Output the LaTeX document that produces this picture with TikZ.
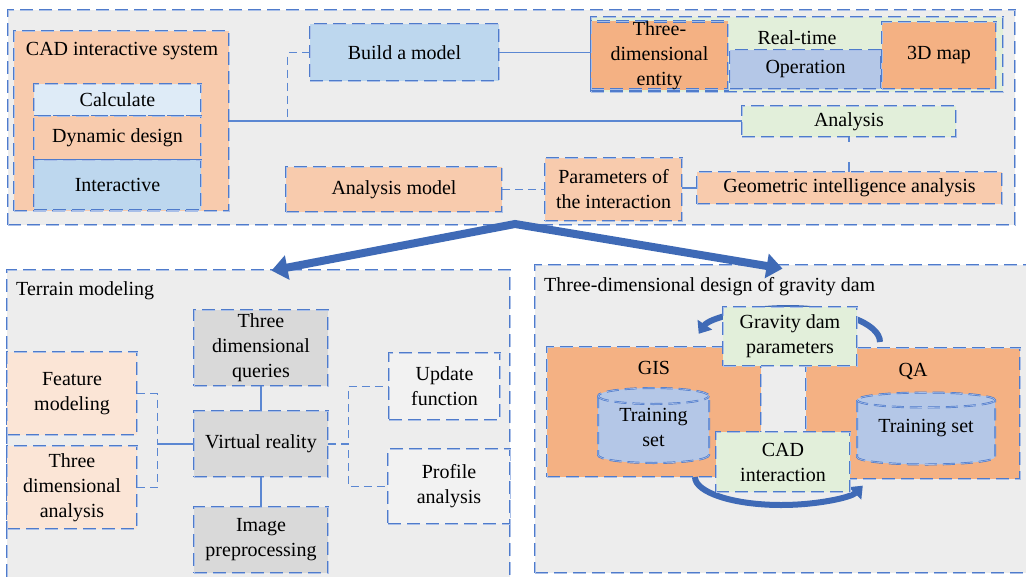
\documentclass[tikz,border=0pt]{standalone}
\usepackage{fontspec}
\setmainfont{Liberation Serif}
\newfontfamily\timesf{Liberation Serif}
\usetikzlibrary{arrows.meta,calc}
\definecolor{dbl}{HTML}{4F7BCB}
\definecolor{dbl2}{HTML}{A9BFE8}
\definecolor{cbl}{HTML}{5B87D2}
\definecolor{abl}{HTML}{3F6AB6}
\definecolor{cont}{HTML}{EDEDED}
\definecolor{orl}{HTML}{F8CBAD}
\definecolor{ord}{HTML}{F4B183}
\definecolor{lblue}{HTML}{DEEBF7}
\definecolor{blu}{HTML}{BDD7EE}
\definecolor{peri}{HTML}{B4C7E7}
\definecolor{grn}{HTML}{E2EFDA}
\definecolor{pch}{HTML}{FBE5D6}
\definecolor{gry}{HTML}{D9D9D9}
\definecolor{vlg}{HTML}{F2F2F2}
\begin{document}
\begin{tikzpicture}[x=1pt,y=-1pt,
  every node/.style={font=\timesf\fontsize{20}{25}\selectfont, text=black},
  bx/.style={draw=dbl, double=dbl2, double distance=0.8pt, line width=0.8pt,
    dash pattern=on 13pt off 6pt, inner sep=0pt, align=center},
  sz/.style 2 args={minimum width=#1pt, minimum height=#2pt},
  conn/.style={draw=cbl, line width=1.4pt},
  dconn/.style={conn, dash pattern=on 8pt off 5pt},
  cylst/.style={draw=dbl, double=dbl2, double distance=0.6pt, line width=0.7pt,
    dash pattern=on 12pt off 6pt},
  bigarrow/.style={draw=abl, line width=8pt, line join=miter,
    {Triangle[width=24pt,length=16pt]}-{Triangle[width=24pt,length=16pt]}},
  curvarrow/.style={draw=abl, line width=6pt, -{Triangle[width=17pt,length=11pt]}},
  ttl/.style={anchor=west, inner sep=0pt}
]
\clip (0,0) rectangle (1026,576);
\fill[white] (0,0) rectangle (1026,576);

% ---------- top container ----------
\node[bx, fill=cont, sz={1007}{215}] (top) at (511.5,117.5) {};
\node[bx, fill=orl, sz={215}{180}] (cad) at (121.5,121) {};
\node[inner sep=0pt] (cadt) at (122,51) {CAD interactive system};
\node[bx, fill=lblue, sz={167}{32}] (calc) at (117.5,100) {Calculate};
\node[bx, fill=orl, sz={167}{44}] (dyn) at (117.5,138) {Dynamic design};
\node[bx, fill=blu, sz={167}{50}] (inter) at (117.5,185) {Interactive};
\node[bx, fill=blu, sz={189}{57}] (bam) at (404.5,52.5) {Build a model};
\node[bx, fill=grn, sz={412}{75}] (grp) at (797,54.5) {};
\node[bx, fill=ord, sz={137}{67}] (tde) at (659.5,55.5) {Three-\\dimensional\\entity};
\node[inner sep=0pt] (rt) at (797,38) {Real-time};
\node[bx, fill=peri, sz={151}{39}] (op) at (805.5,69.5) {Operation};
\node[bx, fill=ord, sz={114}{67}] (map) at (939,55.5) {3D map};
\node[bx, fill=grn, sz={214}{31}] (ana) at (849,121.5) {Analysis};
\node[bx, fill=orl, sz={305}{32}] (gia) at (849.5,188) {Geometric intelligence analysis};
\node[bx, fill=orl, sz={137}{63}] (poi) at (613.5,189.5) {Parameters of\\the interaction};
\node[bx, fill=orl, sz={216}{45}] (am) at (394,189.5) {Analysis model};

\draw[conn] (cad.east) -- (cad.east -| ana.west);
\draw[dconn] (bam.west) -- ++(-22,0) |- (cad.east);
\draw[conn] (bam.east) -- (bam.east -| tde.west);
\draw[conn, dash pattern=on 5pt off 20pt on 30pt off 0pt] (ana.south) -- (ana.south |- gia.north);
\draw[conn] (gia.west) -- (gia.west -| poi.east);
\draw[dconn] (am.east) -- (am.east -| poi.west);

% ---------- terrain modeling ----------
\node[bx, fill=cont, sz={503}{315}] (terr) at (258.5,427.5) {};
\node[ttl] (terrt) at (16,291) {Terrain modeling};
\node[bx, fill=pch, sz={130}{83}] (fm) at (72,393.5) {Feature\\modeling};
\node[bx, fill=pch, sz={130}{83}] (tda) at (72,487.5) {Three\\dimensional\\analysis};
\node[bx, fill=gry, sz={134}{76}] (tdq) at (261,348) {Three\\dimensional\\queries};
\node[bx, fill=gry, sz={134}{66}] (vr) at (261,444) {Virtual reality};
\node[bx, fill=gry, sz={134}{66}] (ip) at (261,540) {Image\\preprocessing};
\node[bx, fill=vlg, sz={111}{67}] (uf) at (444.5,386.5) {Update\\function};
\node[bx, fill=vlg, sz={122}{75}] (pa) at (449,486.5) {Profile\\analysis};

\draw[dconn] (fm.east) -- ++(20,0) |- (vr.west);
\draw[dconn] (tda.east) -- ++(20,0) |- (vr.west);
\draw[conn] (vr.north) -- (tdq.south);
\draw[conn] (vr.south) -- (ip.north);
\draw[dconn] (vr.east) -- ++(20,0) |- (uf.west);
\draw[dconn] (vr.east) -- ++(20,0) |- (pa.west);

% ---------- gravity dam ----------
\node[bx, fill=cont, sz={505}{308}] (grav) at (787.5,419) {};
\node[ttl] (gravt) at (544,287) {Three-dimensional design of gravity dam};
\node[bx, fill=ord, sz={214}{130}] (gis) at (654,412) {};
\node[bx, fill=ord, sz={214}{131}] (qa) at (913,413.5) {};
\node[inner sep=0pt] (gisl) at (654,368) {GIS};
\node[inner sep=0pt] (qal) at (913,371) {QA};

% cylinders
\path[cylst, fill=peri] (598,396) -- (598,455) arc[start angle=180,end angle=0,x radius=55.5,y radius=8]
  -- (709,396) arc[start angle=0,end angle=-180,x radius=55.5,y radius=8] -- cycle;
\draw[cylst] (598,396) arc[start angle=180,end angle=0,x radius=55.5,y radius=8];
\node[align=center, inner sep=0pt] (ts1) at (653.5,427) {Training\\set};
\path[cylst, fill=peri] (857,400) -- (857,457) arc[start angle=180,end angle=0,x radius=69,y radius=7.5]
  -- (995,400) arc[start angle=0,end angle=-180,x radius=69,y radius=7.5] -- cycle;
\draw[cylst] (857,400) arc[start angle=180,end angle=0,x radius=69,y radius=7.5];
\node[inner sep=0pt] (ts2) at (926,428) {Training set};

% curved arrows
\draw[curvarrow] (880,342) arc[start angle=0,end angle=-166,x radius=92,y radius=34];
\draw[curvarrow] (695,477) arc[start angle=180,end angle=18,x radius=86,y radius=28];

\node[bx, fill=grn, sz={134}{59}] (gdp) at (790,336.5) {Gravity dam\\parameters};
\node[bx, fill=grn, sz={134}{60}] (cadi) at (783,462) {CAD\\interaction};

% ---------- big arrows ----------
\coordinate (apex) at (515,224);
\draw[bigarrow] ($(terr.north)+(13,1)$) -- (apex) -- ($(grav.north)+(-5,4)$);
\end{tikzpicture}
\end{document}
